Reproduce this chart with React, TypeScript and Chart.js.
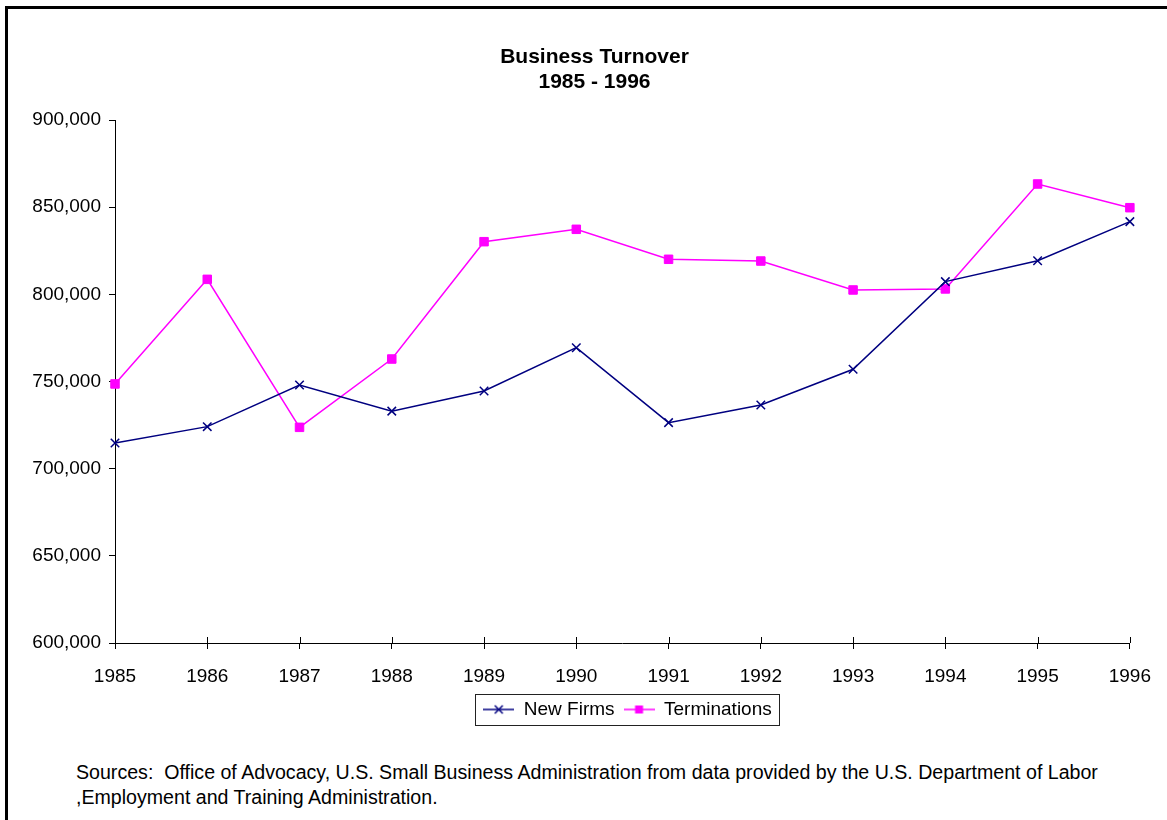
import React, { useEffect, useRef } from 'react';
import { Chart, registerables } from 'chart.js';

Chart.register(...registerables);

const years = ['1985', '1986', '1987', '1988', '1989', '1990', '1991', '1992', '1993', '1994', '1995', '1996'];
const newFirms = [714700, 724100, 748000, 733000, 744600, 769400, 726400, 736500, 757000, 807300, 819300, 841700];
const terminations = [748600, 808600, 723700, 762900, 830200, 837300, 820100, 819100, 802500, 803100, 863300, 849700];
const yTickValues = [600000, 650000, 700000, 750000, 800000, 850000, 900000];
const seriesNames = ['New Firms', 'Terminations'];
const titleLines = ['Business Turnover', '1985 - 1996'];
const sourceLines = [
  'Sources:  Office of Advocacy, U.S. Small Business Administration from data provided by the U.S. Department of Labor',
  ',Employment and Training Administration.',
];

const FONT = "'Liberation Sans', Arial, Helvetica, sans-serif";
const NAVY = '#000080';
const MAGENTA = '#FF00FF';

function makeIcon(kind: 'cross' | 'square', color: string): HTMLCanvasElement {
  const c = document.createElement('canvas');
  c.width = 31;
  c.height = 12;
  const ctx = c.getContext('2d')!;
  ctx.strokeStyle = color;
  ctx.fillStyle = color;
  ctx.lineWidth = 1.5;
  ctx.beginPath();
  ctx.moveTo(0, 6);
  ctx.lineTo(31, 6);
  ctx.stroke();
  if (kind === 'cross') {
    ctx.beginPath();
    ctx.moveTo(15.5 - 4, 2);
    ctx.lineTo(15.5 + 4, 10);
    ctx.moveTo(15.5 + 4, 2);
    ctx.lineTo(15.5 - 4, 10);
    ctx.stroke();
  } else {
    ctx.fillRect(11.5, 2, 8, 8);
  }
  return c;
}

const decorations = {
  id: 'decorations',
  afterLayout(chart: any) {
    if (chart.titleBlock) {
      chart.titleBlock.left = 57;
      chart.titleBlock.right = 1132;
    }
    if (chart.legend) {
      chart.legend.left = 123;
      chart.legend.right = 1132;
    }
  },
  afterDraw(chart: any) {
    const ctx = chart.ctx;
    const xs = chart.scales.x;
    const bottom = chart.chartArea.bottom;
    ctx.save();
    ctx.strokeStyle = '#000';
    ctx.lineWidth = 1;
    ctx.beginPath();
    xs.ticks.forEach((_: any, i: number) => {
      const px = Math.round(xs.getPixelForTick(i)) + 0.5;
      ctx.moveTo(px, bottom - 6);
      ctx.lineTo(px, bottom);
    });
    ctx.stroke();
    const hb = chart.legend && chart.legend.legendHitBoxes;
    if (hb && hb.length) {
      const first = hb[0];
      const last = hb[hb.length - 1];
      const cy = first.top + first.height / 2;
      const l = Math.round(first.left - 8) + 0.5;
      const r = Math.round(last.left + last.width + 7) + 0.5;
      const t = Math.round(cy - 15.5) + 0.5;
      ctx.strokeStyle = '#222';
      ctx.strokeRect(l, t, r - l, 31);
    }
    ctx.restore();
  },
};

export default function App() {
  const canvasRef = useRef<HTMLCanvasElement | null>(null);

  useEffect(() => {
    const canvas = canvasRef.current;
    if (!canvas) return;
    const icons = [makeIcon('cross', NAVY), makeIcon('square', MAGENTA)];
    const chart = new Chart(canvas, {
      type: 'line',
      data: {
        labels: years,
        datasets: [
          {
            label: seriesNames[0],
            data: newFirms,
            borderColor: NAVY,
            backgroundColor: NAVY,
            borderWidth: 1.5,
            pointStyle: 'crossRot',
            pointRadius: 6,
            pointBorderWidth: 1.5,
            pointBorderColor: NAVY,
            tension: 0,
            fill: false,
          },
          {
            label: seriesNames[1],
            data: terminations,
            borderColor: MAGENTA,
            backgroundColor: MAGENTA,
            borderWidth: 1.5,
            pointStyle: 'rect',
            pointRadius: 6,
            pointBorderWidth: 1,
            pointBorderColor: MAGENTA,
            pointBackgroundColor: MAGENTA,
            tension: 0,
            fill: false,
          },
        ],
      },
      options: {
        animation: false,
        responsive: false,
        devicePixelRatio: 1,
        layout: { padding: { left: 0, right: 35, top: 0, bottom: 11 } },
        plugins: {
          tooltip: { enabled: false },
          title: {
            display: true,
            text: titleLines,
            color: '#000',
            font: { family: FONT, size: 21, weight: 'bold', lineHeight: 25 / 21 },
            padding: { top: 45, bottom: 25 },
          },
          legend: {
            display: true,
            position: 'bottom',
            fullSize: false,
            labels: {
              color: '#000',
              font: { family: FONT, size: 19 },
              usePointStyle: true,
              pointStyleWidth: 31,
              padding: 9,
              generateLabels: (c: any) => {
                const items = (Chart.defaults.plugins.legend.labels as any).generateLabels(c);
                return items.map((it: any, i: number) => ({ ...it, pointStyle: icons[i], fontColor: '#000' }));
              },
            },
          },
        },
        scales: {
          x: {
            type: 'category',
            offset: false,
            grid: { drawOnChartArea: false, drawTicks: true, tickLength: 6, color: '#000' },
            border: { color: '#000', width: 1 },
            ticks: { color: '#000', font: { family: FONT, size: 19 }, padding: 16, maxRotation: 0, autoSkip: false },
            afterFit: (s: any) => {
              s.height = 48;
            },
          },
          y: {
            min: 600000,
            max: 900000,
            grid: { drawOnChartArea: false, drawTicks: true, tickLength: 6, color: '#000' },
            border: { color: '#000', width: 1 },
            ticks: {
              color: '#000',
              font: { family: FONT, size: 19 },
              padding: 8,
              callback: (v: any) => Number(v).toLocaleString('en-US'),
            },
            afterBuildTicks: (s: any) => {
              s.ticks = yTickValues.map((v) => ({ value: v }));
            },
            afterFit: (s: any) => {
              s.width = 115;
            },
          },
        },
      },
      plugins: [decorations],
    } as any);
    return () => chart.destroy();
  }, []);

  return (
    <div
      style={{
        position: 'fixed',
        left: 0,
        top: 0,
        width: 1167,
        height: 820,
        background: '#fff',
        overflow: 'hidden',
      }}
    >
      <div
        style={{
          position: 'absolute',
          left: 5,
          top: 6,
          width: 1300,
          height: 900,
          borderLeft: '3px solid #000',
          borderTop: '3px solid #000',
        }}
      />
      <canvas
        ref={canvasRef}
        width={1167}
        height={740}
        style={{ position: 'absolute', left: 0, top: 0, width: 1167, height: 740 }}
      />
      <div
        style={{
          position: 'absolute',
          left: 76,
          top: 760,
          fontFamily: FONT,
          fontSize: 19.6,
          lineHeight: '25px',
          color: '#000',
          whiteSpace: 'pre',
        }}
      >
        {sourceLines[0]}
        <br />
        {sourceLines[1]}
      </div>
    </div>
  );
}
